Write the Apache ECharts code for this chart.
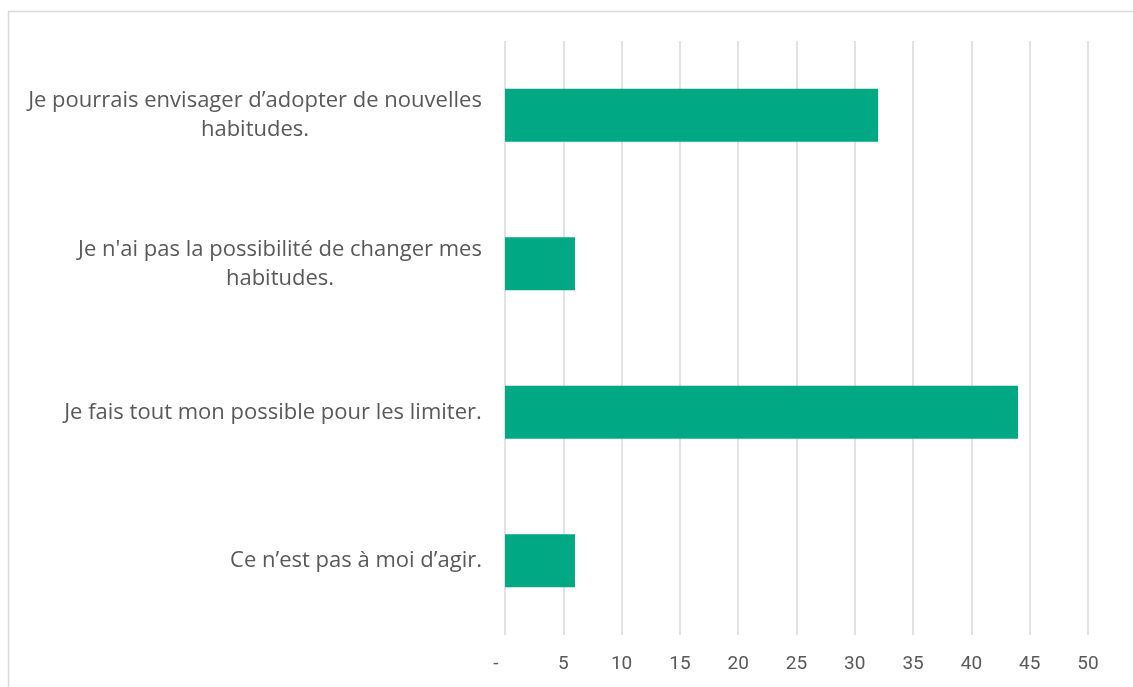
<!DOCTYPE html>
<html>
<head>
<meta charset="utf-8">
<script src="https://cdn.jsdelivr.net/npm/echarts@6/dist/echarts.min.js"></script>
<style>
  html, body { margin: 0; padding: 0; background: #fff; }
  #chart { width: 1133px; height: 687px; }
</style>
</head>
<body>
<div id="chart"></div>
<script>
// categories from top to bottom
var categories = [
    'Je pourrais envisager d\u2019adopter de nouvelles\nhabitudes.',
    'Je n\'ai pas la possibilité de changer mes\nhabitudes.',
    'Je fais tout mon possible pour les limiter.',
    'Ce n\u2019est pas à moi d\u2019agir.'
];
var values = [32, 6, 44, 6];
var xTicks = [0, 5, 10, 15, 20, 25, 30, 35, 40, 45, 50];

var labelFont = '22px "Open Sans"';
var cv = document.createElement('canvas').getContext('2d');
cv.font = labelFont;
function widest(txt) {
    var w = 0;
    txt.split('\n').forEach(function (l) { w = Math.max(w, cv.measureText(l).width); });
    return Math.ceil(w);
}

var chart = echarts.init(document.getElementById('chart'));
var richStyles = {};
categories.forEach(function (c) {
    var w = widest(c);
    richStyles['w' + w] = {
        width: w, align: 'center', fontSize: 22, fontFamily: 'Open Sans',
        color: '#595959', lineHeight: 29
    };
});

var option = {
    backgroundColor: '#fff',
    animation: false,
    graphic: [{
        type: 'rect',
        shape: { x: 8.5, y: 11.5, width: 1140, height: 700 },
        style: { fill: 'none', stroke: '#d9d9d9', lineWidth: 1.5 },
        silent: true
    }],
    grid: { left: 505, right: 45, top: 41, bottom: 52 },
    xAxis: {
        type: 'value',
        min: xTicks[0],
        max: xTicks[xTicks.length - 1],
        interval: 5,
        axisLine: { show: false },
        axisTick: { show: false },
        splitLine: { lineStyle: { color: '#d9d9d9', width: 1.5 } },
        axisLabel: {
            margin: 20,
            color: '#595959',
            fontSize: 19,
            fontFamily: 'Liberation Sans Narrow, Roboto, sans-serif',
            formatter: function (v) { return v === 0 ? '{z|-}' : String(v); },
            rich: { z: { padding: [0, 18, 0, 0], fontSize: 19, color: '#595959', fontFamily: 'Liberation Sans Narrow, Roboto, sans-serif' } }
        }
    },
    yAxis: {
        type: 'category',
        inverse: true,
        data: categories,
        axisLine: { show: false },
        axisTick: { show: false },
        splitLine: { show: false },
        axisLabel: {
            margin: 23,
            // lines centred inside a right-aligned block
            formatter: function (v) {
                var key = 'w' + widest(v);
                return v.split('\n').map(function (l) { return '{' + key + '|' + l + '}'; }).join('\n');
            },
            rich: richStyles
        }
    },
    series: [{
        type: 'bar',
        data: values,
        barWidth: 53,
        itemStyle: { color: '#00a884' }
    }]
};

chart.setOption(option);
</script>
</body>
</html>
